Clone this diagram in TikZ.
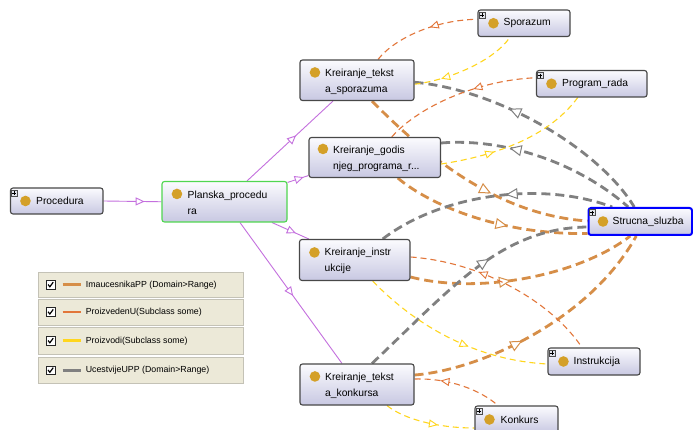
\documentclass[tikz,border=0pt]{standalone}
\usepackage{fontspec}
\setmainfont{Liberation Sans}
\usetikzlibrary{arrows.meta,decorations.markings}
\pgfdeclarelayer{canvas}
\pgfdeclarelayer{edges}
\pgfsetlayers{canvas,edges,main}

\definecolor{imacol}{RGB}{214,142,72}
\definecolor{procol}{RGB}{226,118,58}
\definecolor{yelcol}{RGB}{255,214,30}
\definecolor{graycol}{RGB}{128,128,128}
\definecolor{isacol}{RGB}{196,112,222}
\definecolor{boxtop}{RGB}{251,251,254}
\definecolor{boxbot}{RGB}{200,200,226}
\definecolor{boxedge}{RGB}{72,72,72}
\definecolor{dotcol}{RGB}{212,160,40}
\definecolor{legbg}{RGB}{236,233,216}
\definecolor{legedge}{RGB}{196,194,182}
\definecolor{plusfill}{RGB}{226,228,236}

% small "+" expander in the upper-left corner of a class box
\newcommand{\expandmark}[1]{%
  \draw[draw=black!70, fill=plusfill, line width=0.5pt]
    ([xshift=1.5pt,yshift=-2.7pt]#1.north west) rectangle ([xshift=7.5pt,yshift=-8.7pt]#1.north west);
  \draw[line width=0.8pt]
    ([xshift=4.5pt,yshift=-3.7pt]#1.north west) -- ([xshift=4.5pt,yshift=-7.7pt]#1.north west)
    ([xshift=2.5pt,yshift=-5.7pt]#1.north west) -- ([xshift=6.5pt,yshift=-5.7pt]#1.north west);}
% golden class marker
\newcommand{\classdot}[1]{\fill[dotcol] #1 circle (5.3pt);}

\begin{document}
\begin{tikzpicture}[x=1pt,y=-1pt,
  cls/.style={rectangle, rounded corners=2.5pt, draw=boxedge, line width=1.1pt,
    top color=boxtop, bottom color=boxbot, inner sep=0pt},
  lbl/.style={font=\fontsize{10.3}{16}\selectfont, inner sep=0pt, align=left, anchor=west},
  legrow/.style={rectangle, fill=legbg, draw=legedge, line width=0.7pt, inner sep=0pt,
    minimum width=205pt},
  chk/.style={rectangle, draw=black!85, fill=white, line width=0.7pt, minimum size=8.5pt, inner sep=0pt},
  legtxt/.style={font=\fontsize{8.8}{10}\selectfont, inner sep=0pt, anchor=west},
  thickline/.style={line width=2.8pt, dash pattern=on 9pt off 5pt},
  thinline/.style={line width=1.1pt, dash pattern=on 6pt off 4pt},
  ima/.style={thickline, draw=imacol},
  uce/.style={thickline, draw=graycol},
  pro/.style={thinline, draw=procol},
  prz/.style={thinline, draw=yelcol},
  isa/.style={line width=0.9pt, draw=isacol},
  tipP/.tip={Triangle[length=9pt,width=8pt,line width=0.9pt,fill=white]},
  tipT/.tip={Triangle[length=12pt,width=11pt,line width=1pt,fill=white]},
  tipS/.tip={Triangle[length=9pt,width=8pt,line width=0.9pt,fill=white]},
  fwd/.style 2 args={postaction={decorate, decoration={markings,
    mark=at position #1 with {\arrow{#2}}}}},
  bwd/.style 2 args={postaction={decorate, decoration={markings,
    mark=at position #1 with {\arrowreversed{#2}}}}},
]
\useasboundingbox (0,0) rectangle (693,430);
\begin{pgfonlayer}{canvas}
\fill[white] (0,0) rectangle (693,430);
\end{pgfonlayer}

% ---------- class boxes ----------
\node[cls, minimum width=92.5pt, minimum height=26pt] (proc) at (56.75,201) {};
\node[cls, draw={rgb,255:red,80;green,214;blue,80}, minimum width=125pt, minimum height=40.5pt] (plan) at (224.5,201.75) {};
\node[cls, minimum width=114pt, minimum height=40.5pt] (ks) at (357,80.25) {};
\node[cls, minimum width=131.5pt, minimum height=40pt] (kg) at (374.75,157.5) {};
\node[cls, minimum width=110.5pt, minimum height=41pt] (ki) at (354.75,260) {};
\node[cls, minimum width=114pt, minimum height=41pt] (kk) at (357,384.5) {};
\node[cls, minimum width=92pt, minimum height=26.5pt] (spor) at (524,23.25) {};
\node[cls, minimum width=110.5pt, minimum height=26.5pt] (prog) at (591.75,83.75) {};
\node[cls, draw=blue, line width=2pt, minimum width=103.5pt, minimum height=27pt] (ss) at (640.25,221.5) {};
\node[cls, minimum width=92pt, minimum height=27pt] (instr) at (594,361.5) {};
\node[cls, minimum width=83pt, minimum height=27pt] (konk) at (516.5,419.5) {};

% expanders
\expandmark{proc}
\expandmark{spor}
\expandmark{prog}
\expandmark{ss}
\expandmark{instr}
\expandmark{konk}

% class markers
\classdot{([xshift=15.5pt]proc.west)}
\classdot{([xshift=15.5pt,yshift=-13pt]plan.north west)}
\classdot{([xshift=15.5pt,yshift=-13pt]ks.north west)}
\classdot{([xshift=14.5pt,yshift=-12pt]kg.north west)}
\classdot{([xshift=15.5pt,yshift=-13.5pt]ki.north west)}
\classdot{([xshift=15.5pt,yshift=-13pt]kk.north west)}
\classdot{([xshift=16pt]spor.west)}
\classdot{([xshift=15.5pt]prog.west)}
\classdot{([xshift=15.5pt]ss.west)}
\classdot{([xshift=16pt]instr.west)}
\classdot{([xshift=15pt]konk.west)}

% labels
\node[lbl] (proc-t) at ([xshift=26pt]proc.west) {Procedura};
\node[lbl] (plan-t) at ([xshift=26pt,yshift=-22pt]plan.north west) {Planska\_procedu\\ra};
\node[lbl] (ks-t) at ([xshift=25.5pt,yshift=-22pt]ks.north west) {Kreiranje\_tekst\\a\_sporazuma};
\node[lbl] (kg-t) at ([xshift=24.5pt,yshift=-22pt]kg.north west) {Kreiranje\_godis\\njeg\_programa\_r...};
\node[lbl] (ki-t) at ([xshift=25.5pt,yshift=-22pt]ki.north west) {Kreiranje\_instr\\ukcije};
\node[lbl] (kk-t) at ([xshift=25.5pt,yshift=-22pt]kk.north west) {Kreiranje\_tekst\\a\_konkursa};
\node[lbl] (spor-t) at ([xshift=26pt]spor.west) {Sporazum};
\node[lbl] (prog-t) at ([xshift=26pt]prog.west) {Program\_rada};
\node[lbl] (ss-t) at ([xshift=25pt]ss.west) {Strucna\_sluzba};
\node[lbl] (instr-t) at ([xshift=26pt]instr.west) {Instrukcija};
\node[lbl] (konk-t) at ([xshift=26pt]konk.west) {Konkurs};

% ---------- connectors (behind the boxes) ----------
\begin{pgfonlayer}{edges}
% ImaucesnikaPP
\draw[ima, fwd={0.60}{tipT}] ([xshift=15pt]ks.south) .. controls (430,160) and (500,215) .. ([yshift=0.5pt]ss.west);
\draw[ima, fwd={0.60}{tipT}] ([xshift=23pt]kg.south) .. controls (430,205) and (500,235) .. ([yshift=-12pt]ss.west);
\draw[ima, fwd={0.44}{tipT}] ([yshift=-17pt]ki.east) .. controls (480,295) and (580,275) .. ([xshift=-10pt]ss.south);
\draw[ima, fwd={0.42}{tipT}] ([yshift=9.5pt]kk.east) .. controls (480,370) and (590,320) .. ([xshift=-4pt]ss.south);
% UcestvijeUPP
\draw[uce, bwd={0.38}{tipT}] ([yshift=-2pt]ks.east) .. controls (500,90) and (600,150) .. ([xshift=-6pt]ss.north);
\draw[uce, bwd={0.34}{tipT}] ([yshift=14.5pt]kg.east) .. controls (500,138) and (575,160) .. ([xshift=-12pt]ss.north);
\draw[uce, bwd={0.55}{tipT}] ([xshift=28pt]ki.north) .. controls (440,195) and (540,180) .. ([xshift=-28pt]ss.north);
\draw[uce, fwd={0.60}{tipT}] ([xshift=15pt]kk.north) .. controls (450,290) and (500,228) .. ([yshift=-5.5pt]ss.west);
% ProizvedenU
\draw[pro, bwd={0.56}{tipS}] ([xshift=21pt]ks.north) .. controls (395,38) and (435,20) .. ([yshift=4pt]spor.west);
\draw[pro, bwd={0.60}{tipS}] ([xshift=17pt]kg.north) .. controls (420,105) and (480,80) .. ([yshift=6pt]prog.west);
\draw[pro, bwd={0.35}{tipS}] ([yshift=3pt]ki.east) .. controls (480,262) and (550,300) .. ([xshift=-12pt]instr.north);
\draw[pro, bwd={0.29}{tipS}] ([yshift=5.5pt]kk.east) .. controls (450,378) and (480,390) .. ([xshift=-18.5pt]konk.north);
% Proizvodi
\draw[prz, bwd={0.25}{tipS}] ([yshift=-4pt]ks.east) .. controls (450,80) and (495,60) .. ([xshift=-14pt]spor.south);
\draw[prz, fwd={0.35}{tipS}] ([yshift=-6.5pt]kg.east) .. controls (500,155) and (550,135) .. ([xshift=-14pt]prog.south);
\draw[prz, fwd={0.59}{tipS}] ([xshift=18pt]ki.south) .. controls (410,320) and (470,360) .. ([yshift=-2.5pt]instr.west);
\draw[prz, fwd={0.60}{tipS}] ([xshift=30pt]kk.south) .. controls (405,420) and (440,428) .. ([yshift=-8.5pt]konk.west);
% subclass links
\draw[isa, fwd={0.71}{tipP}] (proc.east) -- (plan.west);
\draw[isa, fwd={0.57}{tipP}] ([xshift=22.5pt]plan.north) -- ([xshift=-24pt]ks.south);
\draw[isa, fwd={0.77}{tipP}] ([yshift=-1.5pt]plan.north east) -- ([yshift=2.5pt]kg.south west);
\draw[isa, fwd={0.65}{tipP}] ([xshift=47.5pt]plan.south) -- ([xshift=-46pt]ki.north);
\draw[isa, fwd={0.52}{tipP}] ([xshift=15.5pt]plan.south) -- ([xshift=-15pt]kk.north);
\end{pgfonlayer}

% ---------- legend ----------
\foreach \i/\yc/\hh/\col/\txt in {
  1/284.75/25.5/imacol/{ImaucesnikaPP (Domain>Range)},
  2/312/26/procol/{ProizvedenU(Subclass some)},
  3/340.75/26.5/yelcol/{Proizvodi(Subclass some)},
  4/370.25/26.5/graycol/{UcestvijeUPP (Domain>Range)}}{
  \node[legrow, minimum height=\hh pt] (lr\i) at (140.5,\yc) {};
  \node[chk] (cb\i) at ([xshift=13pt]lr\i.west) {};
  \draw[line width=1.2pt] ([xshift=-2.6pt,yshift=0.2pt]cb\i.center) -- ([xshift=-0.8pt,yshift=-2pt]cb\i.center) -- ([xshift=2.6pt,yshift=2.6pt]cb\i.center);
  \draw[\col, line width=2.6pt] ([xshift=25pt]lr\i.west) -- ([xshift=43pt]lr\i.west);
  \node[legtxt] (lt\i) at ([xshift=48pt]lr\i.west) {\txt};
}
\end{tikzpicture}
\end{document}
